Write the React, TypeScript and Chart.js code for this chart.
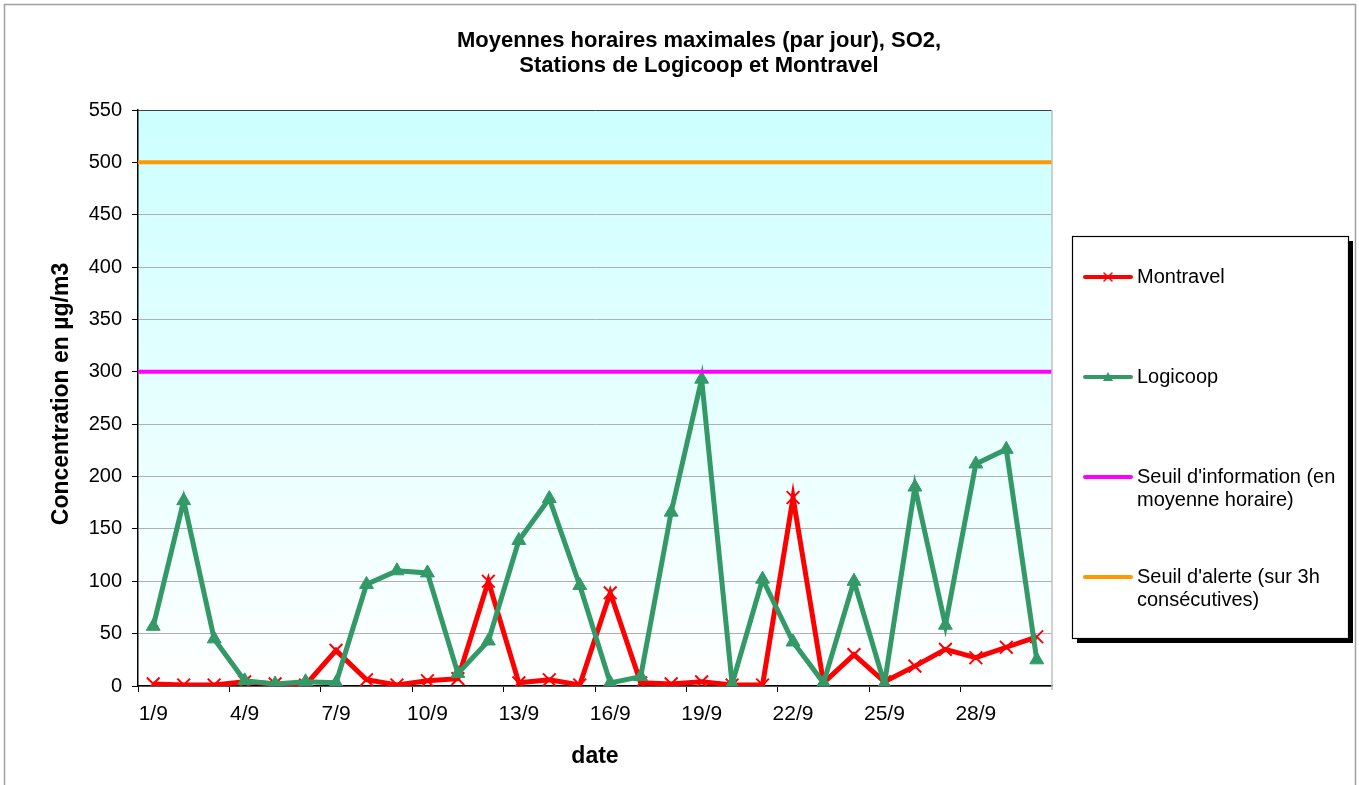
import React, { useEffect, useRef } from "react";
import { Chart, registerables } from "chart.js";

Chart.register(...registerables);

const dates = [
  "1/9", "2/9", "3/9", "4/9", "5/9", "6/9", "7/9", "8/9", "9/9", "10/9",
  "11/9", "12/9", "13/9", "14/9", "15/9", "16/9", "17/9", "18/9", "19/9", "20/9",
  "21/9", "22/9", "23/9", "24/9", "25/9", "26/9", "27/9", "28/9", "29/9", "30/9",
];
const montravel = [2, 1, 1, 4, 2, 1, 34, 6, 1, 5, 7, 100, 3, 6, 1, 89, 3, 2, 4, 1, 1, 180, 3, 30, 4, 19, 35, 27, 37, 47];
const logicoop = [57, 177, 45, 5, 2, 4, 3, 97, 110, 108, 12, 43, 139, 179, 96, 3, 9, 166, 293, 2, 102, 42, 3, 100, 2, 190, 58, 212, 226, 25];
const seuilInformation = 300;
const seuilAlerte = 500;
const yMin = 0;
const yMax = 550;
const yStep = 50;

const titleLines = ["Moyennes horaires maximales (par jour), SO2,", "Stations de Logicoop et Montravel"];
const yTitle = "Concentration en µg/m3";
const xTitle = "date";
const legendMontravel = ["Montravel"];
const legendLogicoop = ["Logicoop"];
const legendInfo = ["Seuil d'information (en", "moyenne horaire)"];
const legendAlerte = ["Seuil d'alerte (sur 3h", "consécutives)"];

const RED = "#ff0000";
const GREEN = "#339966";
const MAGENTA = "#ff00ff";
const ORANGE = "#ff9900";
const FONT = '"Liberation Sans", Arial, sans-serif';

function drawCross(ctx: CanvasRenderingContext2D, x: number, y: number, r: number, color: string) {
  ctx.save();
  ctx.strokeStyle = color;
  ctx.lineWidth = 1.5;
  ctx.beginPath();
  ctx.moveTo(x - r, y - r);
  ctx.lineTo(x + r, y + r);
  ctx.moveTo(x + r, y - r);
  ctx.lineTo(x - r, y + r);
  ctx.stroke();
  ctx.restore();
}

function drawTriangle(ctx: CanvasRenderingContext2D, x: number, y: number, r: number, color: string) {
  ctx.save();
  ctx.fillStyle = color;
  ctx.beginPath();
  ctx.moveTo(x, y - r);
  ctx.lineTo(x + r, y + r * 0.8);
  ctx.lineTo(x - r, y + r * 0.8);
  ctx.closePath();
  ctx.fill();
  ctx.restore();
}

const decorPlugin = {
  id: "decor",
  beforeDraw(chart: any) {
    const { ctx, chartArea: a } = chart;
    ctx.save();
    ctx.fillStyle = "#ffffff";
    ctx.fillRect(0, 0, chart.width, chart.height);
    ctx.strokeStyle = "#a0a0a0";
    ctx.lineWidth = 1.5;
    ctx.strokeRect(4.5, 4.5, chart.width - 8, chart.height + 10);
    const g = ctx.createLinearGradient(0, a.top, 0, a.bottom);
    g.addColorStop(0, "#ccffff");
    g.addColorStop(1, "#ffffff");
    ctx.fillStyle = g;
    ctx.fillRect(a.left, a.top, a.right - a.left, a.bottom - a.top);
    ctx.restore();
  },
  afterDatasetsDraw(chart: any) {
    const { ctx, chartArea: a } = chart;
    const ys = chart.scales.y;
    ctx.save();
    ctx.lineWidth = 4;
    ctx.strokeStyle = MAGENTA;
    let py = ys.getPixelForValue(seuilInformation);
    ctx.beginPath();
    ctx.moveTo(a.left, py);
    ctx.lineTo(a.right, py);
    ctx.stroke();
    ctx.strokeStyle = ORANGE;
    py = ys.getPixelForValue(seuilAlerte);
    ctx.beginPath();
    ctx.moveTo(a.left, py);
    ctx.lineTo(a.right, py);
    ctx.stroke();
    ctx.restore();
  },
  afterDraw(chart: any) {
    const { ctx, chartArea: a } = chart;
    ctx.save();
    ctx.strokeStyle = "#c0c0c0";
    ctx.lineWidth = 1.5;
    ctx.beginPath();
    ctx.moveTo(a.right, a.top);
    ctx.lineTo(a.right, a.bottom + 4);
    ctx.stroke();

    ctx.fillStyle = "#000";
    ctx.font = `bold 22px ${FONT}`;
    ctx.textAlign = "center";
    ctx.textBaseline = "middle";
    ctx.fillText(titleLines[0], 699, 41);
    ctx.fillText(titleLines[1], 699, 66);

    ctx.font = `bold 23px ${FONT}`;
    ctx.fillText(xTitle, 595, 757);
    ctx.save();
    ctx.translate(62, 394);
    ctx.rotate(-Math.PI / 2);
    ctx.fillText(yTitle, 0, 0);
    ctx.restore();

    const bx = 1072, by = 236, bw = 276, bh = 402;
    ctx.fillStyle = "#000";
    ctx.fillRect(bx + 5, by + 5, bw, bh);
    ctx.fillStyle = "#fff";
    ctx.fillRect(bx, by, bw, bh);
    ctx.strokeStyle = "#000";
    ctx.lineWidth = 1.2;
    ctx.strokeRect(bx + 0.5, by + 0.5, bw, bh);

    const items = [
      { lines: legendMontravel, color: RED, y: 277, marker: "cross" },
      { lines: legendLogicoop, color: GREEN, y: 377, marker: "tri" },
      { lines: legendInfo, color: MAGENTA, y: 477, marker: "" },
      { lines: legendAlerte, color: ORANGE, y: 577, marker: "" },
    ];
    ctx.font = `20px ${FONT}`;
    ctx.textAlign = "left";
    ctx.textBaseline = "middle";
    for (const it of items) {
      ctx.strokeStyle = it.color;
      ctx.lineWidth = 4;
      ctx.lineCap = "round";
      ctx.beginPath();
      ctx.moveTo(1085, it.y);
      ctx.lineTo(1131, it.y);
      ctx.stroke();
      if (it.marker === "cross") drawCross(ctx, 1108, it.y, 4, it.color);
      if (it.marker === "tri") drawTriangle(ctx, 1108, it.y, 5, it.color);
      ctx.fillStyle = "#000";
      it.lines.forEach((t, i) => ctx.fillText(t, 1137, it.y + i * 23.5));
    }
    ctx.restore();
  },
};

export default function App() {
  const ref = useRef<HTMLCanvasElement>(null);
  useEffect(() => {
    if (!ref.current) return;
    const chart = new Chart(ref.current, {
      type: "line",
      data: {
        labels: dates,
        datasets: [
          {
            label: "Montravel",
            data: montravel,
            borderColor: RED,
            backgroundColor: RED,
            borderWidth: 5,
            pointStyle: "crossRot",
            pointRadius: 9,
            pointBorderWidth: 2,
            pointBorderColor: RED,
            tension: 0,
            order: 2,
          },
          {
            label: "Logicoop",
            data: logicoop,
            borderColor: GREEN,
            backgroundColor: GREEN,
            borderWidth: 5,
            pointStyle: "triangle",
            pointRadius: 8,
            pointBorderWidth: 1,
            pointBorderColor: GREEN,
            pointBackgroundColor: GREEN,
            tension: 0,
            order: 1,
          },
        ],
      },
      options: {
        responsive: false,
        animation: false,
        events: [],
        layout: { padding: { left: 0, right: 307, top: 110, bottom: 39 } },
        plugins: { legend: { display: false }, title: { display: false }, tooltip: { enabled: false } },
        scales: {
          x: {
            type: "category",
            offset: true,
            afterFit: (s: any) => { s.height = 60; },
            grid: {
              offset: true,
              drawOnChartArea: false,
              drawTicks: true,
              tickLength: 6,
              tickColor: (c: any) => (c.index % 3 === 0 ? "#000" : "rgba(0,0,0,0)"),
              color: "rgba(0,0,0,0)",
            },
            border: { color: "#000", width: 1.5 },
            ticks: {
              autoSkip: false,
              maxRotation: 0,
              padding: 10,
              color: "#000",
              font: { family: FONT, size: 21 },
              callback: (_v: any, i: number) => (i % 3 === 0 ? dates[i] : ""),
            },
          },
          y: {
            min: yMin,
            max: yMax,
            afterFit: (s: any) => { s.width = 138; },
            grid: {
              color: (c: any) => (c.tick && c.tick.value === yMax ? "#404040" : "#b0b0b0"),
              lineWidth: 1,
              tickLength: 6,
              tickColor: "#000",
            },
            border: { color: "#000", width: 1.5 },
            ticks: {
              stepSize: yStep,
              padding: 10,
              color: "#000",
              font: { family: FONT, size: 20 },
            },
          },
        },
      },
      plugins: [decorPlugin],
    });
    return () => chart.destroy();
  }, []);
  return (
    <div style={{ position: "fixed", left: 0, top: 0 }}>
      <canvas ref={ref} width={1359} height={785} style={{ display: "block" }} />
    </div>
  );
}
